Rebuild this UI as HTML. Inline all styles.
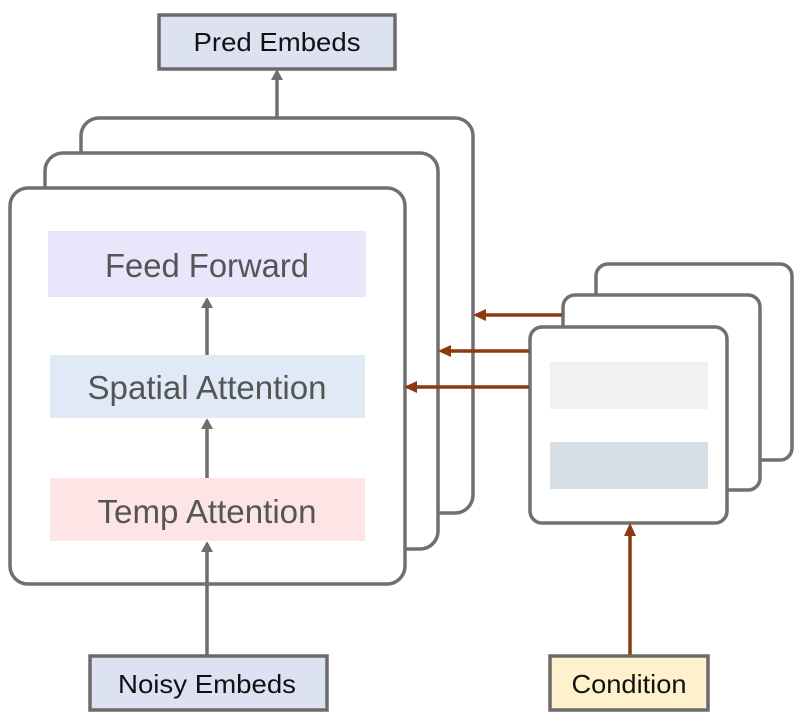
<!DOCTYPE html>
<html><head><style>body{margin:0;background:#fff}svg{display:block}</style></head>
<body>
<svg width="803" height="725" viewBox="0 0 803 725" xmlns="http://www.w3.org/2000/svg" font-family="Liberation Sans, sans-serif">
<defs>
<marker id="ag" markerWidth="10" markerHeight="12" refX="8" refY="6" orient="auto" markerUnits="userSpaceOnUse"><path d="M0,0 L11,6 L0,12 z" fill="#6e6e6e"/></marker>
<marker id="ab" markerWidth="14" markerHeight="12" refX="10" refY="6" orient="auto" markerUnits="userSpaceOnUse"><path d="M0,0 L13,6 L0,12 z" fill="#8b3a0e"/></marker>
</defs>
<rect x="81" y="118" width="392" height="395" rx="18" fill="#fff" stroke="#707070" stroke-width="3.5"/>
<rect x="45" y="153" width="393" height="396" rx="18" fill="#fff" stroke="#707070" stroke-width="3.5"/>
<rect x="10" y="188" width="395" height="396" rx="18" fill="#fff" stroke="#707070" stroke-width="3.5"/>
<rect x="48" y="231" width="318" height="66" fill="#e7e6fb"/>
<rect x="50" y="355" width="315" height="63" fill="#e0eaf6"/>
<rect x="50" y="478" width="315" height="63" fill="#fde5e6"/>
<g fill="#555" font-size="33" text-anchor="middle">
<text x="207" y="277" textLength="204" lengthAdjust="spacingAndGlyphs">Feed Forward</text>
<text x="207" y="399" textLength="239" lengthAdjust="spacingAndGlyphs">Spatial Attention</text>
<text x="207" y="523" textLength="219" lengthAdjust="spacingAndGlyphs">Temp Attention</text>
</g>
<g stroke="#6e6e6e" stroke-width="3.5">
<line x1="207" y1="355" x2="207" y2="300" marker-end="url(#ag)"/>
<line x1="207" y1="478" x2="207" y2="421" marker-end="url(#ag)"/>
<line x1="207" y1="655" x2="207" y2="544" marker-end="url(#ag)"/>
<line x1="277" y1="118" x2="277" y2="72" marker-end="url(#ag)"/>
</g>
<rect x="596" y="264" width="196" height="196" rx="12" fill="#fff" stroke="#707070" stroke-width="3.5"/>
<rect x="563" y="295" width="197" height="195" rx="12" fill="#fff" stroke="#707070" stroke-width="3.5"/>
<rect x="530" y="327" width="197" height="196" rx="12" fill="#fff" stroke="#707070" stroke-width="3.5"/>
<rect x="550" y="362" width="158" height="47" fill="#f1f1f1"/>
<rect x="550" y="442" width="158" height="47" fill="#d6dee6"/>
<g stroke="#8b3a0e" stroke-width="3.5">
<line x1="562" y1="315" x2="476" y2="315" marker-end="url(#ab)"/>
<line x1="529" y1="351" x2="441" y2="351" marker-end="url(#ab)"/>
<line x1="529" y1="387" x2="407" y2="387" marker-end="url(#ab)"/>
<line x1="630" y1="655" x2="630" y2="526" marker-end="url(#ab)"/>
</g>
<rect x="159" y="15" width="236" height="54" fill="#dce2f2" stroke="#6b6b6b" stroke-width="3.5"/>
<rect x="90" y="656" width="237" height="54" fill="#dce2f2" stroke="#6b6b6b" stroke-width="3.5"/>
<rect x="550" y="656" width="158" height="54" fill="#fef1cc" stroke="#6b6b6b" stroke-width="3.5"/>
<g fill="#111" font-size="26" text-anchor="middle">
<text x="277" y="51" textLength="167" lengthAdjust="spacingAndGlyphs">Pred Embeds</text>
<text x="207" y="693" textLength="178" lengthAdjust="spacingAndGlyphs">Noisy Embeds</text>
<text x="629" y="693" textLength="115" lengthAdjust="spacingAndGlyphs">Condition</text>
</g>
</svg>
</body></html>
